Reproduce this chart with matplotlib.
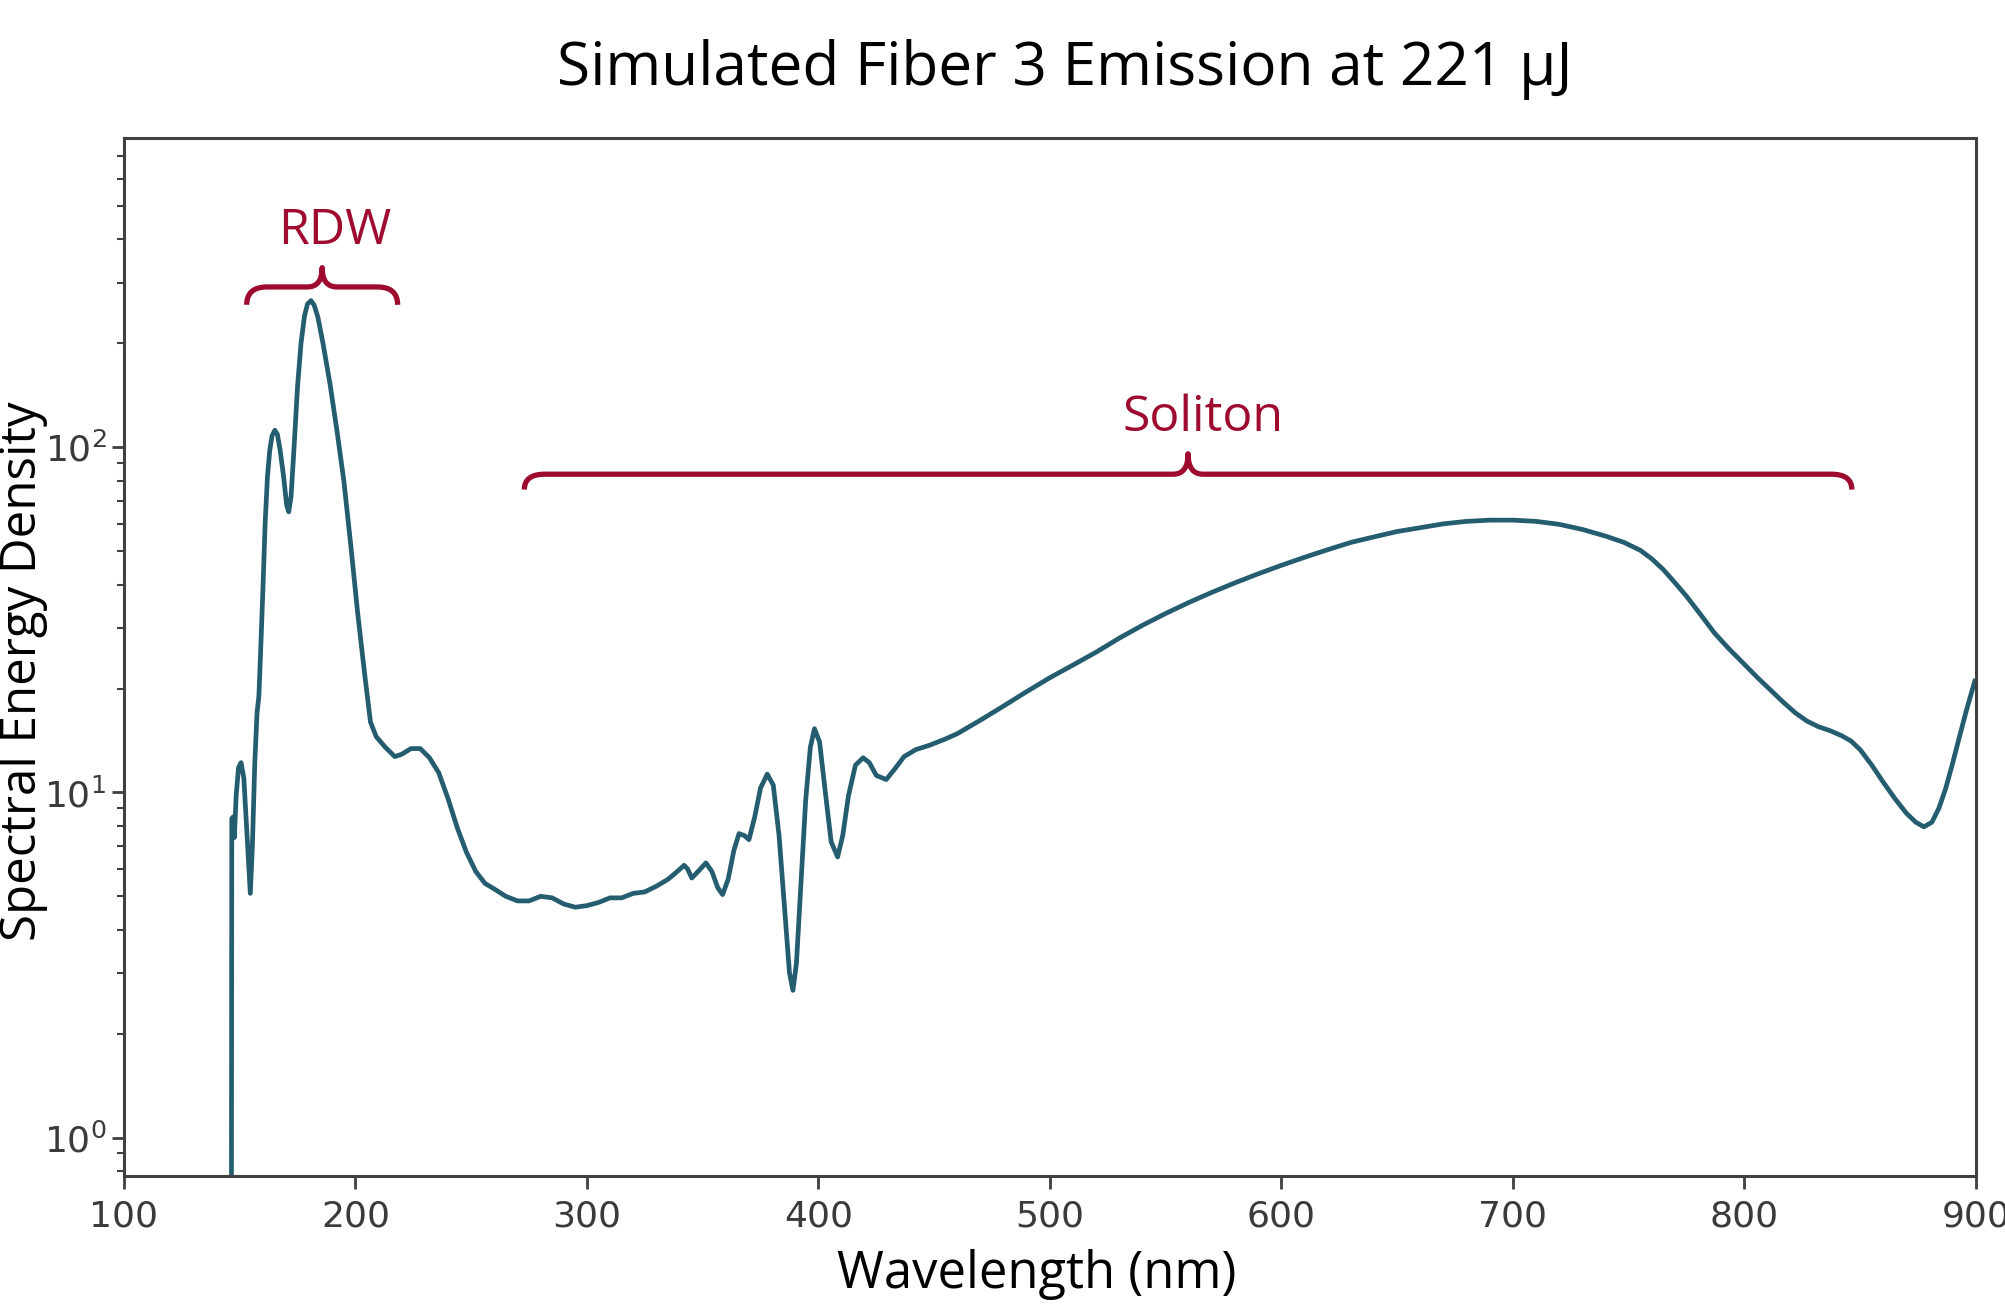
import matplotlib
matplotlib.use("Agg")
import matplotlib.pyplot as plt
from matplotlib.path import Path
from matplotlib.patches import PathPatch
import numpy as np

# Spectrum (wavelength in nm, spectral energy density)
wavelength = [
    146.4, 146.6, 147.2, 147.7, 148.5, 149.5, 150.6, 151.8, 153.2, 154.6,
    155.5, 156.5, 157.5, 158.3, 159.0, 160.0, 161.0, 162.0, 163.0, 164.0,
    165.2, 166.3, 167.5, 169.0, 170.3, 171.2, 172.2, 173.5, 175.0, 176.5,
    178.0, 179.3, 180.8, 182.2, 183.8, 186.0, 189.0, 192.0, 195.0, 198.0,
    201.0, 204.0, 206.5, 209.0, 213.0, 217.0, 220.0, 224.0, 228.0, 232.0,
    236.0, 240.0, 244.0, 248.0, 252.0, 256.0, 260.0, 265.0, 270.0, 275.0,
    280.0, 285.0, 290.0, 295.0, 300.0, 305.0, 310.0, 315.0, 320.0, 325.0,
    330.0, 335.0, 339.0, 342.0, 343.5, 345.3, 348.0, 351.4, 354.0, 356.5,
    358.6, 361.0, 363.5, 365.7, 368.0, 370.0, 372.5, 375.0, 377.9, 380.5,
    383.0, 385.5, 387.5, 389.0, 390.5, 392.5, 394.5, 396.5, 398.3, 400.5,
    403.0, 405.5, 408.3, 410.5, 413.0, 416.0, 419.3, 422.0, 425.0, 429.3,
    433.0, 437.0, 442.0, 448.0, 455.0, 460.0, 470.0, 480.0, 490.0, 500.0,
    510.0, 520.0, 530.0, 540.0, 550.0, 560.0, 570.0, 580.0, 590.0, 600.0,
    610.0, 620.0, 630.0, 640.0, 650.0, 660.0, 670.0, 680.0, 690.0, 700.0,
    710.0, 720.0, 730.0, 740.0, 748.0, 755.0, 760.0, 765.0, 770.0, 775.0,
    781.0, 787.0, 793.0, 800.0, 806.0, 812.0, 817.0, 822.0, 827.0, 832.0,
    837.0, 842.0, 846.0, 850.0, 855.0, 860.0, 865.0, 870.0, 874.0, 877.5,
    881.0, 884.0, 887.0, 890.0, 893.0, 896.0, 899.5,
]
density = [
    0.3, 8.4, 8.5, 7.4, 9.8, 11.8, 12.2, 11.0, 7.5, 5.1,
    7.0, 12.0, 17.0, 19.0, 25.0, 38.0, 60.0, 82.0, 98.0, 108.0,
    112.0, 109.0, 98.0, 82.0, 68.0, 65.0, 72.0, 100.0, 150.0, 200.0,
    240.0, 260.0, 266.0, 258.0, 238.0, 200.0, 153.0, 112.0, 80.0, 52.0,
    33.0, 22.0, 16.0, 14.5, 13.5, 12.7, 12.9, 13.4, 13.4, 12.6,
    11.4, 9.6, 7.9, 6.7, 5.9, 5.45, 5.25, 5.0, 4.85, 4.85,
    5.0, 4.95, 4.75, 4.65, 4.7, 4.8, 4.95, 4.95, 5.1, 5.15,
    5.35, 5.6, 5.9, 6.15, 6.0, 5.65, 5.9, 6.25, 5.9, 5.3,
    5.06, 5.6, 6.8, 7.6, 7.5, 7.3, 8.5, 10.3, 11.3, 10.5,
    7.5, 4.5, 3.0, 2.67, 3.2, 5.5, 9.5, 13.5, 15.3, 14.0,
    10.0, 7.2, 6.5, 7.5, 9.8, 12.0, 12.6, 12.2, 11.2, 10.9,
    11.7, 12.7, 13.3, 13.7, 14.3, 14.8, 16.2, 17.8, 19.6, 21.5,
    23.4, 25.5, 28.0, 30.5, 33.0, 35.5, 38.0, 40.5, 43.0, 45.5,
    48.0, 50.5, 53.0, 55.0, 57.0, 58.5, 60.0, 61.0, 61.5, 61.5,
    61.0, 59.8, 57.8, 55.3, 53.0, 50.3, 47.5, 44.2, 40.5, 37.0,
    32.8, 29.0, 26.2, 23.5, 21.4, 19.6, 18.2, 17.0, 16.1, 15.5,
    15.1, 14.6, 14.1, 13.3, 12.0, 10.7, 9.6, 8.7, 8.2, 7.95,
    8.2, 9.0, 10.3, 12.2, 14.6, 17.4, 21.0,
]

title = "Simulated Fiber 3 Emission at 221 μJ"
x_ticks = [100, 200, 300, 400, 500, 600, 700, 800, 900]
line_color = "#245c70"
note_color = "#9e0b2f"
text_font = ["Open Sans", "DejaVu Sans"]


def brace(ax, x0, x1, y_end, y_bar, y_tip, r_end, r_mid):
    """Curly brace in axes fraction coords, opening downward."""
    xm = (x0 + x1) / 2
    verts = [
        (x0, y_end), (x0, y_bar), (x0 + r_end, y_bar),
        (xm - r_mid, y_bar),
        (xm, y_bar), (xm, y_tip),
        (xm, y_bar), (xm + r_mid, y_bar),
        (x1 - r_end, y_bar),
        (x1, y_bar), (x1, y_end),
    ]
    codes = [Path.MOVETO, Path.CURVE3, Path.CURVE3, Path.LINETO,
             Path.CURVE3, Path.CURVE3, Path.CURVE3, Path.CURVE3,
             Path.LINETO, Path.CURVE3, Path.CURVE3]
    patch = PathPatch(Path(verts, codes), transform=ax.transAxes,
                      fill=False, edgecolor=note_color, lw=3.8,
                      capstyle="butt", joinstyle="round", clip_on=False)
    ax.add_patch(patch)


fig = plt.figure(figsize=(20.05, 13.08), dpi=100)
ax = fig.add_axes([0.0618, 0.1009, 0.9237, 0.7936])

ax.plot(wavelength, density, color=line_color, lw=3.4,
        solid_joinstyle="round")
ax.set_yscale("log")
ax.set_xlim(100, 900)
ax.set_ylim(0.774, 787)
ax.set_xticks(x_ticks)

for sp in ax.spines.values():
    sp.set_color("#404040")
    sp.set_linewidth(2.2)
ax.tick_params(axis="both", which="major", labelsize=26, colors="#404040",
               labelcolor="#3a3a3a", length=9, width=2)
ax.tick_params(axis="x", which="major", pad=8)
ax.tick_params(axis="y", which="minor", length=5, width=1.5, colors="#404040")

ax.set_xlabel("Wavelength (nm)", fontsize=36.5, family=text_font, va="center")
ax.xaxis.set_label_coords(0.493, -0.0948)
ax.set_ylabel("Spectral Energy Density", fontsize=35.5, family=text_font,
              va="center")
ax.yaxis.set_label_coords(-0.0546, 0.4865)
fig.text(0.531, 0.9465, title, fontsize=43.5, family=text_font,
         ha="center", va="center")

# annotations
brace(ax, 0.0663, 0.1478, 0.8393, 0.8565, 0.8751, 0.011, 0.008)
ax.text(0.114, 0.91, "RDW", transform=ax.transAxes, fontsize=36,
        family=text_font, color=note_color, ha="center", va="center")
brace(ax, 0.2162, 0.933, 0.6613, 0.6761, 0.6958, 0.011, 0.008)
ax.text(0.5829, 0.7303, "Soliton", transform=ax.transAxes, fontsize=36,
        family=text_font, color=note_color, ha="center", va="center")

fig.savefig("out.png", dpi=100)
